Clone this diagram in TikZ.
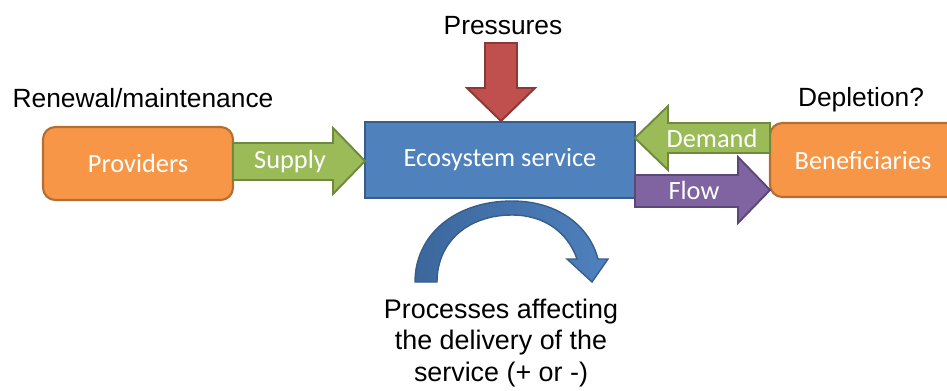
\documentclass[tikz,border=0pt]{standalone}
\usepackage{fontspec}
\setmainfont{Liberation Sans}
\newfontfamily\boxfont{Carlito}
\usetikzlibrary{positioning}

\definecolor{orgfill}{HTML}{F79646}
\definecolor{orgline}{HTML}{B66D31}
\definecolor{grnfill}{HTML}{9BBB59}
\definecolor{grnline}{HTML}{71893F}
\definecolor{blufill}{HTML}{4F81BD}
\definecolor{bluline}{HTML}{385D8A}
\definecolor{bludark}{HTML}{3B679C}
\definecolor{redfill}{HTML}{C0504D}
\definecolor{redline}{HTML}{8C3836}
\definecolor{purfill}{HTML}{8064A2}
\definecolor{purline}{HTML}{5C4776}

\begin{document}
\begin{tikzpicture}[x=0.02cm, y=-0.02cm,
    boxtext/.style={text=white, font=\boxfont\fontsize{15}{18}\selectfont},
    labeltext/.style={text=black, font=\fontsize{15}{18}\selectfont},
    actor/.style={draw=orgline, fill=orgfill, line width=1.2pt, rounded corners=7pt},
    service/.style={draw=bluline, fill=blufill, line width=1.2pt},
    blockarrow/.style={line width=1.1pt, line join=miter}]

    \clip (0,0) rectangle (947,390);

    % boxes
    \draw[actor] (43,127) rectangle (233,200);
    \node[boxtext] (providers) at (138,163) {Providers};

    \draw[service] (365,122) rectangle (635,198);
    \node[boxtext] (ecoservice) at (500,160) {Ecosystem service};

    \draw[actor] (770,123) rectangle (975,197);
    \node[boxtext] (beneficiaries) at (863,160) {Beneficiaries};

    % block arrows
    \draw[blockarrow, draw=grnline, fill=grnfill] (233,143) -- (333,143) -- (333,128) -- (365,161) -- (333,194) -- (333,180) -- (233,180) -- cycle;
    \node[boxtext] (supply) at (290,161) {Supply};

    \draw[blockarrow, draw=redline, fill=redfill] (485,43) -- (517,43) -- (517,88) -- (535,88) -- (501,121) -- (467,88) -- (485,88) -- cycle;

    \draw[blockarrow, draw=grnline, fill=grnfill] (770,123) -- (668,123) -- (668,106) -- (635,138) -- (668,170) -- (668,153) -- (770,153) -- cycle;
    \node[boxtext] (demand) at (712,138) {Demand};

    \draw[blockarrow, draw=purline, fill=purfill] (635,175) -- (738,175) -- (738,157) -- (770,190) -- (738,223) -- (738,207) -- (635,207) -- cycle;
    \node[boxtext] (flow) at (694,190) {Flow};

    % curved arrow under the service
    \draw[draw=bluline, line width=0.8pt, left color=bludark, right color=blufill]
        (415,282) .. controls (415,235) and (455,201) .. (512,201)
        .. controls (560,201) and (590,228) .. (598,259)
        -- (608,259) -- (592,282) -- (567,259) -- (577,259)
        .. controls (568,233) and (545,215) .. (512,215)
        .. controls (468,215) and (437,242) .. (437,282) -- cycle;

    % labels
    \node[labeltext] (pressures) at (503,26) {Pressures};
    \node[labeltext] (renewal) at (143,98) {Renewal/maintenance};
    \node[labeltext] (depletion) at (861,100) {Depletion?};
    \node[labeltext, align=center, font=\fontsize{15.3}{17.8}\selectfont] (processes) at (501,343)
        {Processes affecting\\the delivery of the\\service (+ or -)};

\end{tikzpicture}
\end{document}
